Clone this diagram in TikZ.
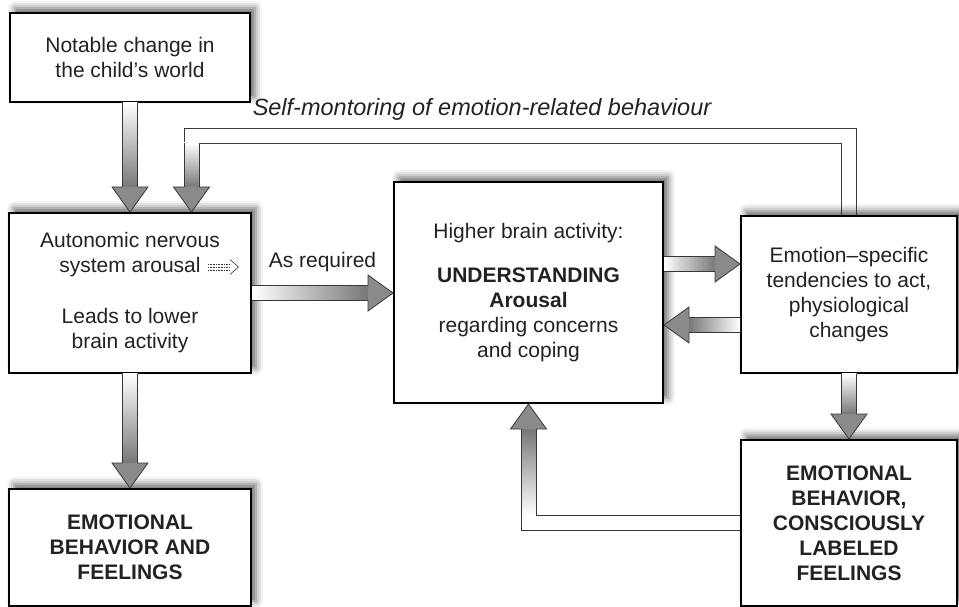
\documentclass[tikz,border=0pt]{standalone}
\usepackage{fontspec}
\setmainfont{Liberation Sans}
\usetikzlibrary{calc,shadows.blur}

\definecolor{inkgray}{HTML}{222222}
\definecolor{shaftgray}{HTML}{777777}
\definecolor{headgray}{HTML}{8A8A8A}
\definecolor{edgegray}{HTML}{383838}

\tikzset{
  box/.style={draw=black, line width=2pt, fill=white, text=inkgray, align=center, inner sep=0pt,
    blur shadow={shadow xshift=5pt, shadow yshift=5pt, shadow blur radius=7pt, shadow opacity=60},
    font=\fontsize{21}{25}\selectfont},
  boldbox/.style={box, font=\fontsize{21}{25}\selectfont\bfseries},
  caption/.style={text=inkgray, font=\fontsize{21}{25}\selectfont},
  chanline/.style={draw=edgegray, line width=0.8pt, line join=miter},
}

% fat shaded arrow from #2 to #3, shading of the shaft in #1
\newcommand\fatarrow[3][]{%
  \coordinate (fa0) at ($#3!25pt!#2$);
  \coordinate (fa1) at ($#2!7.5pt!90:#3$);
  \coordinate (fa2) at ($(fa0)!7.5pt!-90:#2$);
  \coordinate (fa3) at ($(fa0)!18pt!-90:#2$);
  \coordinate (fa4) at ($(fa0)!18pt!90:#2$);
  \coordinate (fa5) at ($(fa0)!7.5pt!90:#2$);
  \coordinate (fa6) at ($#2!7.5pt!-90:#3$);
  \shade[#1] (fa1) -- (fa2) -- (fa5) -- (fa6) -- cycle;
  \filldraw[fill=headgray, draw=edgegray, line width=0.8pt, line join=miter] (fa2) -- (fa3) -- #3 -- (fa4) -- (fa5);
  \draw[edgegray, line width=0.8pt] (fa1) -- (fa2) (fa5) -- (fa6);
}

\begin{document}
\begin{tikzpicture}[x=1pt, y=1pt]
    \useasboundingbox (0,0) rectangle (959,606);

    \node[box, minimum width=240pt, minimum height=89pt] (notable) at (130,548.5) {Notable change in\\the child’s world};
    \node[box, minimum width=242pt, minimum height=160pt] (arousal) at (130,313) {Autonomic nervous\\system arousal\\[26pt]Leads to lower\\brain activity};
    \node[boldbox, minimum width=242pt, minimum height=117pt] (feelings) at (130,58.5) {EMOTIONAL\\BEHAVIOR AND\\FEELINGS};
    \node[box, minimum width=269pt, minimum height=221pt] (higher) at (528.5,313.5) {Higher brain activity:\\[19pt]\textbf{UNDERSTANDING}\\\textbf{Arousal}\\regarding concerns\\and coping};
    \node[box, minimum width=216pt, minimum height=157pt] (emotion) at (849,311.5) {Emotion–specific\\tendencies to act,\\physiological\\changes};
    \node[boldbox, minimum width=216pt, minimum height=166pt] (labeled) at (849,83) {EMOTIONAL\\BEHAVIOR,\\CONSCIOUSLY\\LABELED\\FEELINGS};

    \node[caption, font=\fontsize{23.5}{28}\selectfont\itshape] (monitor) at (482,497) {Self-montoring of emotion-related behaviour};
    \node[caption] (asreq) at (322.5,344) {As required};

    % dotted arrow after "system arousal"
    \draw[edgegray, densely dotted, line width=0.6pt] (208,342) -- (230,342) (208,339) -- (230,339) (208,336) -- (230,336);
    \draw[edgegray, line width=0.6pt] (230,346.5) -- (238.5,339) -- (230,331.5);

    % main flow
    \fatarrow[top color=white, bottom color=shaftgray]{(notable.south)}{(arousal.north)}
    \fatarrow[top color=white, bottom color=shaftgray]{(arousal.south)}{(feelings.north)}
    \fatarrow[left color=white, right color=shaftgray]{(arousal.east)}{(higher.west |- arousal.east)}
    \coordinate (toemo) at ([yshift=30.5pt]emotion.west);
    \coordinate (fromemo) at ([yshift=-30.5pt]emotion.west);
    \fatarrow[left color=white, right color=shaftgray]{(higher.east |- toemo)}{(toemo)}
    \fatarrow[right color=white, left color=shaftgray]{(fromemo)}{(higher.east |- fromemo)}
    \fatarrow[top color=white, bottom color=shaftgray]{(emotion.south)}{(labeled.north)}

    % feedback loops
    \coordinate (fbtop) at (191.5,470.5);
    \draw[chanline] ([xshift=7.5pt]emotion.north) |- ([shift={(-7.5pt,7.5pt)}]fbtop) -- ([shift={(-7.5pt,-7.5pt)}]fbtop);
    \draw[chanline] ([xshift=-7.5pt]emotion.north) |- ([shift={(7.5pt,-7.5pt)}]fbtop);
    \fatarrow[top color=white, bottom color=shaftgray]{([yshift=-7.5pt]fbtop)}{(fbtop |- arousal.north)}
    \coordinate (fbbot) at ([yshift=7.5pt]higher.south |- labeled.west);
    \draw[chanline] ([yshift=-7.5pt]labeled.west) -| ([xshift=-7.5pt]fbbot);
    \draw[chanline] ([yshift=7.5pt]labeled.west) -- ([xshift=7.5pt]fbbot);
    \fatarrow[bottom color=white, top color=shaftgray]{(fbbot)}{(higher.south)}
\end{tikzpicture}
\end{document}
